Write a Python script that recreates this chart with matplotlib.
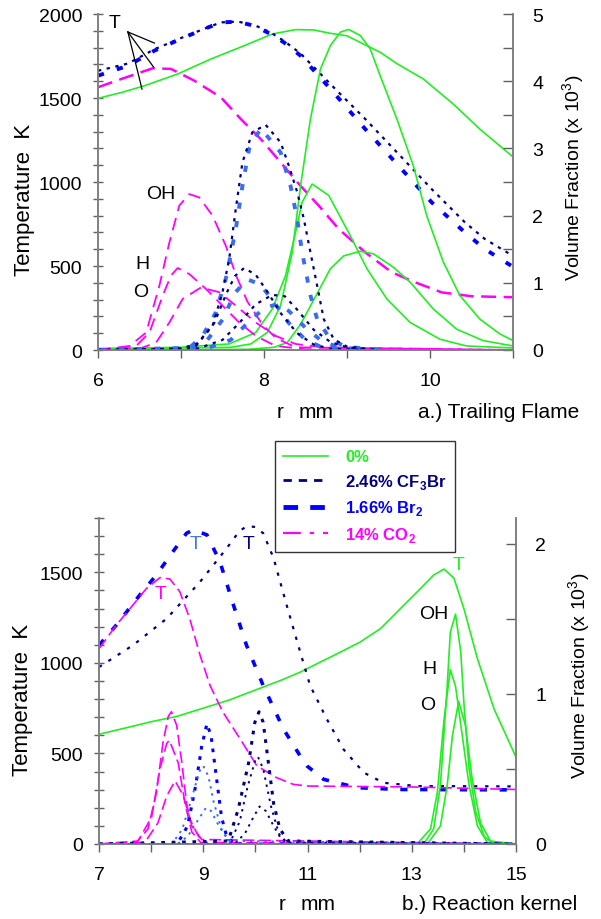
import matplotlib
matplotlib.use("Agg")
import matplotlib.pyplot as plt
from matplotlib.lines import Line2D

plt.rcParams['font.family'] = ['Liberation Sans', 'DejaVu Sans']
plt.rcParams['mathtext.fontset'] = 'custom'
plt.rcParams['mathtext.rm'] = 'Liberation Sans'
plt.rcParams['mathtext.bf'] = 'Liberation Sans:bold'

# ---------------- colours / series names ----------------
GREEN = '#22ee22'
NAVY = '#000080'
BLUE = '#0000ff'
LBLUE = '#3b6cf0'
MAG = '#ff00ff'
legend_labels = ['0%', r'2.46% CF$_\mathbf{3}$Br', r'1.66% Br$_\mathbf{2}$', r'14% CO$_\mathbf{2}$']

# ================= (a) Trailing flame =================
# temperature (K)
a_x_T0 = [6.0, 6.3, 6.56, 6.96, 7.36, 7.76, 8.1, 8.38, 8.6, 8.8, 9.0, 9.2, 9.4, 9.6, 9.92, 10.28, 10.6, 11.0]
a_T0 = [1498, 1535, 1573, 1643, 1732, 1811, 1881, 1907, 1905, 1885, 1870, 1821, 1772, 1705, 1613, 1464, 1315, 1149]
a_x_Tcf = [6.0, 6.36, 6.68, 7.04, 7.28, 7.48, 7.68, 7.88, 8.08, 8.24, 8.44, 8.82, 9.22, 9.62, 10.02, 10.42, 10.66, 11.0]
a_Tcf = [1662, 1705, 1790, 1865, 1912, 1950, 1955, 1935, 1890, 1840, 1765, 1573, 1375, 1167, 958, 760, 661, 560]
a_Tbr = [1633, 1692, 1782, 1861, 1911, 1950, 1954, 1930, 1881, 1831, 1752, 1543, 1315, 1097, 879, 700, 601, 495]
a_x_Tco = [6.0, 6.28, 6.66, 6.88, 7.16, 7.48, 7.72, 7.96, 8.2, 8.42, 8.66, 8.9, 9.22, 9.54, 9.82, 10.14, 10.5, 11.0]
a_Tco = [1564, 1613, 1677, 1673, 1603, 1504, 1375, 1256, 1117, 988, 859, 720, 581, 462, 403, 343, 320, 314]

# species volume fraction (x10^3)
a_x_OH0 = [6.0, 7.0, 7.6, 7.84, 8.04, 8.2, 8.34, 8.44, 8.56, 8.68, 8.8, 8.92, 9.02, 9.16, 9.28, 9.4, 9.6, 9.8, 9.96, 10.16, 10.36, 10.6, 10.84, 11.0]
a_OH0 = [0.02, 0.03, 0.04, 0.09, 0.26, 0.66, 1.45, 2.44, 3.44, 4.18, 4.53, 4.73, 4.77, 4.68, 4.48, 4.08, 3.44, 2.74, 2.0, 1.31, 0.81, 0.46, 0.24, 0.14]
a_x_H0 = [6.0, 6.98, 7.58, 7.90, 8.10, 8.26, 8.38, 8.46, 8.58, 8.78, 9.04, 9.24, 9.48, 9.76, 10.12, 10.44, 11.0]
a_H0 = [0.02, 0.04, 0.09, 0.26, 0.61, 1.11, 1.75, 2.20, 2.47, 2.30, 1.70, 1.21, 0.76, 0.41, 0.16, 0.06, 0.03]
a_x_O0 = [6.0, 7.8, 8.12, 8.28, 8.44, 8.64, 8.8, 8.96, 9.16, 9.32, 9.56, 9.76, 10.04, 10.32, 10.64, 11.0]
a_O0 = [0.0, 0.01, 0.04, 0.11, 0.38, 0.84, 1.21, 1.40, 1.47, 1.43, 1.23, 1.01, 0.61, 0.31, 0.14, 0.06]

a_x_OHco = [6.0, 6.38, 6.58, 6.74, 6.86, 6.98, 7.10, 7.22, 7.38, 7.54, 7.66, 7.8, 7.98, 8.14, 8.38, 11.0]
a_OHco = [0.0, 0.06, 0.26, 0.96, 1.60, 2.15, 2.32, 2.27, 2.0, 1.55, 1.12, 0.72, 0.38, 0.18, 0.04, 0.0]
a_x_Hco = [6.0, 6.46, 6.62, 6.78, 6.88, 6.96, 7.10, 7.30, 7.50, 7.70, 7.90, 8.14, 8.5, 11.0]
a_Hco = [0.0, 0.06, 0.26, 0.81, 1.11, 1.22, 1.13, 0.91, 0.66, 0.41, 0.21, 0.06, 0.01, 0.0]
a_x_Oco = [6.0, 6.5, 6.70, 6.86, 7.02, 7.24, 7.46, 7.66, 7.90, 8.14, 8.38, 8.7, 11.0]
a_Oco = [0.0, 0.02, 0.11, 0.41, 0.76, 0.93, 0.86, 0.66, 0.41, 0.21, 0.09, 0.04, 0.0]

a_x_OHcf = [6.0, 7.0, 7.18, 7.38, 7.50, 7.58, 7.66, 7.74, 7.86, 8.02, 8.2, 8.30, 8.40, 8.48, 8.56, 8.64, 8.72, 8.84, 9.0, 9.4]
a_OHcf = [0.0, 0.02, 0.06, 0.36, 0.86, 1.35, 2.10, 2.79, 3.24, 3.35, 3.09, 2.74, 2.35, 1.95, 1.45, 0.96, 0.46, 0.16, 0.05, 0.0]
a_x_Hcf = [6.0, 7.0, 7.2, 7.4, 7.55, 7.65, 7.76, 7.9, 8.05, 8.2, 8.4, 8.6, 8.8, 9.2]
a_Hcf = [0.0, 0.02, 0.1, 0.4, 0.85, 1.1, 1.22, 1.12, 0.85, 0.55, 0.25, 0.08, 0.02, 0.0]
a_x_Ocf = [6.0, 7.2, 7.5, 7.7, 7.9, 8.1, 8.25, 8.4, 8.6, 8.8, 9.0, 9.3]
a_Ocf = [0.0, 0.02, 0.15, 0.4, 0.68, 0.82, 0.8, 0.6, 0.3, 0.12, 0.04, 0.0]

a_x_OHbr = [6.0, 7.1, 7.26, 7.42, 7.54, 7.66, 7.74, 7.82, 7.96, 8.2, 8.32, 8.40, 8.46, 8.56, 8.64, 8.8, 8.98, 9.4]
a_OHbr = [0.0, 0.03, 0.21, 0.56, 1.06, 1.80, 2.44, 2.99, 3.30, 2.94, 2.44, 1.95, 1.45, 0.81, 0.46, 0.16, 0.05, 0.0]
a_x_Hbr = [6.0, 7.1, 7.3, 7.5, 7.65, 7.8, 7.95, 8.1, 8.3, 8.5, 8.7, 9.1]
a_Hbr = [0.0, 0.02, 0.12, 0.45, 0.85, 1.05, 0.98, 0.75, 0.4, 0.15, 0.04, 0.0]
a_x_Obr = [6.0, 7.3, 7.6, 7.8, 8.0, 8.15, 8.3, 8.5, 8.7, 8.9, 9.2]
a_Obr = [0.0, 0.02, 0.15, 0.4, 0.62, 0.68, 0.58, 0.33, 0.13, 0.04, 0.0]

# ================= (b) Reaction kernel =================
b_x_T0 = [7.0, 7.5, 8.0, 8.5, 9.0, 9.5, 10.0, 10.5, 10.86, 11.18, 11.6, 12.01, 12.4, 12.85, 13.17, 13.42, 13.62, 13.81, 14.0, 14.26, 14.58, 15.0]
b_T0 = [606, 640, 675, 705, 750, 795, 850, 905, 949, 995, 1055, 1115, 1189, 1319, 1411, 1485, 1518, 1467, 1300, 1023, 745, 480]
b_x_Tcf = [7.0, 7.65, 8.30, 8.94, 9.45, 9.7, 9.85, 10.0, 10.15, 10.35, 10.60, 10.86, 11.05, 11.37, 11.69, 12.08, 12.46, 13.1, 15.0]
b_Tcf = [977, 1097, 1245, 1448, 1633, 1730, 1756, 1750, 1716, 1578, 1319, 1060, 875, 690, 523, 394, 338, 320, 318]
b_x_Tbr = [7.0, 7.33, 7.78, 8.10, 8.42, 8.68, 8.81, 9.07, 9.32, 9.58, 9.83, 10.15, 10.54, 10.86, 10.99, 11.31, 11.95, 12.78, 15.0]
b_Tbr = [1097, 1208, 1374, 1485, 1615, 1716, 1735, 1707, 1559, 1319, 1097, 875, 634, 486, 431, 357, 311, 301, 299]
b_x_Tco = [7.0, 7.33, 7.65, 7.91, 8.17, 8.36, 8.55, 8.74, 8.94, 9.13, 9.38, 9.71, 10.03, 10.41, 10.73, 11.0, 13.0, 15.0]
b_Tco = [1078, 1208, 1319, 1411, 1471, 1463, 1393, 1245, 1041, 875, 727, 579, 431, 366, 329, 320, 315, 301]

b_x_OH0 = [7.0, 13.23, 13.42, 13.55, 13.68, 13.74, 13.84, 13.94, 14.0, 14.1, 14.23, 14.39, 14.58, 15.0]
b_OH0 = [0.0, 0.0, 0.10, 0.39, 1.05, 1.41, 1.53, 1.28, 0.94, 0.50, 0.21, 0.05, 0.0, 0.0]
b_x_H0 = [7.0, 13.10, 13.36, 13.49, 13.62, 13.74, 13.84, 13.97, 14.1, 14.26, 14.45, 15.0]
b_H0 = [0.0, 0.0, 0.10, 0.34, 0.83, 1.16, 1.05, 0.72, 0.39, 0.12, 0.01, 0.0]
b_x_O0 = [7.0, 13.3, 13.55, 13.68, 13.78, 13.90, 14.03, 14.16, 14.32, 14.51, 15.0]
b_O0 = [0.0, 0.0, 0.12, 0.39, 0.72, 0.95, 0.79, 0.43, 0.14, 0.02, 0.0]

b_x_OHco = [7.0, 7.69, 7.94, 8.10, 8.23, 8.33, 8.39, 8.49, 8.59, 8.68, 8.78, 8.97, 15.0]
b_OHco = [0.0, 0.0, 0.10, 0.34, 0.68, 0.85, 0.88, 0.79, 0.54, 0.27, 0.12, 0.03, 0.0]
b_x_Hco = [7.0, 7.75, 8.01, 8.17, 8.30, 8.35, 8.52, 8.65, 8.78, 8.95, 15.0]
b_Hco = [0.0, 0.02, 0.18, 0.50, 0.67, 0.69, 0.54, 0.27, 0.08, 0.01, 0.0]
b_x_Oco = [7.0, 7.88, 8.13, 8.30, 8.46, 8.62, 8.75, 8.91, 9.1, 15.0]
b_Oco = [0.0, 0.01, 0.14, 0.32, 0.42, 0.32, 0.16, 0.05, 0.0, 0.0]

b_x_OHbr = [7.0, 8.5, 8.7, 8.85, 8.97, 9.07, 9.15, 9.25, 9.35, 9.45, 9.6, 15.0]
b_OHbr = [0.0, 0.0, 0.12, 0.38, 0.65, 0.80, 0.72, 0.45, 0.18, 0.05, 0.0, 0.0]
b_x_Hbr = [7.0, 8.4, 8.6, 8.8, 8.92, 9.0, 9.1, 9.2, 9.35, 9.5, 15.0]
b_Hbr = [0.0, 0.0, 0.1, 0.33, 0.48, 0.52, 0.45, 0.28, 0.1, 0.02, 0.0]
b_x_Obr = [7.0, 8.5, 8.7, 8.9, 9.05, 9.15, 9.3, 9.45, 9.6, 15.0]
b_Obr = [0.0, 0.0, 0.05, 0.16, 0.24, 0.22, 0.12, 0.04, 0.0, 0.0]

b_x_OHcf = [7.0, 9.48, 9.67, 9.87, 9.99, 10.07, 10.15, 10.25, 10.35, 10.47, 10.63, 15.0]
b_OHcf = [0.0, 0.02, 0.23, 0.54, 0.81, 0.88, 0.81, 0.54, 0.27, 0.10, 0.02, 0.0]
b_x_Hcf = [7.0, 9.5, 9.7, 9.85, 10.0, 10.05, 10.15, 10.3, 10.45, 10.6, 15.0]
b_Hcf = [0.0, 0.0, 0.15, 0.38, 0.56, 0.58, 0.5, 0.25, 0.07, 0.01, 0.0]
b_x_Ocf = [7.0, 9.6, 9.8, 9.95, 10.08, 10.2, 10.35, 10.5, 10.65, 15.0]
b_Ocf = [0.0, 0.0, 0.07, 0.17, 0.25, 0.22, 0.12, 0.03, 0.0, 0.0]

# ---------------- styles ----------------
st_T = {
    '0': dict(color=GREEN, lw=1.2, ls='-'),
    'cf': dict(color=NAVY, lw=1.6, ls=(0, (1.5, 2.5))),
    'br': dict(color=BLUE, lw=2.8, ls=(0, (1.6, 3.5))),
    'co': dict(color=MAG, lw=1.8, ls=(0, (6, 3))),
}

fig = plt.figure(figsize=(6.01, 9.2), dpi=100)


def style_axes(ax, axr):
    for a in (ax, axr):
        a.spines['top'].set_visible(False)
        for s in ('left', 'right', 'bottom'):
            a.spines[s].set_color('#808080')
            a.spines[s].set_linewidth(1.2)
    ax.tick_params(axis='y', which='both', direction='inout', length=7, width=1, color='#606060',
                   labelsize=14, pad=8)
    ax.tick_params(axis='x', which='both', direction='out', length=6, width=1, color='#606060',
                   labelsize=14, pad=10)
    axr.tick_params(axis='y', which='both', direction='in', length=7, width=1, color='#606060',
                    labelsize=14, pad=14)


# ---------------- panel (a) ----------------
ax1 = fig.add_axes([98 / 601, 1 - 351 / 920, 415 / 601, 336 / 920])
ax1r = ax1.twinx()
ax1.plot(a_x_T0, a_T0, **st_T['0'])
ax1.plot(a_x_Tcf, a_Tcf, **st_T['cf'])
ax1.plot(a_x_Tcf, a_Tbr, **st_T['br'])
ax1.plot(a_x_Tco, a_Tco, **st_T['co'])

sp_a = dict(color=GREEN, lw=1.2, ls='-')
for xx, yy in ((a_x_OH0, a_OH0), (a_x_H0, a_H0), (a_x_O0, a_O0)):
    ax1r.plot(xx, yy, **sp_a)
sp_co = dict(color=MAG, lw=1.3, ls=(0, (7, 4)))
for xx, yy in ((a_x_OHco, a_OHco), (a_x_Hco, a_Hco), (a_x_Oco, a_Oco)):
    ax1r.plot(xx, yy, **sp_co)
sp_br = dict(color=LBLUE, lw=2.8, ls=(0, (1.6, 3.2)))
for xx, yy in ((a_x_OHbr, a_OHbr), (a_x_Hbr, a_Hbr), (a_x_Obr, a_Obr)):
    ax1r.plot(xx, yy, **sp_br)
sp_cf = dict(color=NAVY, lw=1.6, ls=(0, (1.5, 2.5)))
for xx, yy in ((a_x_OHcf, a_OHcf), (a_x_Hcf, a_Hcf), (a_x_Ocf, a_Ocf)):
    ax1r.plot(xx, yy, **sp_cf)

ax1.set_xlim(6, 11)
ax1.set_ylim(0, 2000)
ax1r.set_ylim(0, 5)
ax1.set_xticks([6, 7, 8, 9, 10, 11])
ax1.set_xticklabels(['6', '', '8', '', '10', ''])
ax1.set_yticks([0, 500, 1000, 1500, 2000])
ax1.set_yticks(range(0, 2001, 100), minor=True)
ax1r.set_yticks([0, 1, 2, 3, 4, 5])
ax1r.set_yticks([x * 0.5 for x in range(11)], minor=True)
style_axes(ax1, ax1r)

ax1.text(6.2, 1950, 'T', fontsize=14, ha='center', va='center')
for xe, ye in ((6.68, 1827), (6.67, 1684), (6.53, 1553)):
    ax1.plot([6.36, xe], [1893, ye], color='black', lw=0.9)
ax1.text(6.76, 929, 'OH', fontsize=14, ha='center', va='center')
ax1.text(6.54, 512, 'H', fontsize=14, ha='center', va='center')
ax1.text(6.52, 351, 'O', fontsize=14, ha='center', va='center')

fig.text(25 / 601, 1 - 200 / 920, 'Temperature  K', rotation=90, fontsize=16, ha='center', va='center')
fig.text(574 / 601, 1 - 178 / 920, 'Volume Fraction (x 10$^{3}$)', rotation=90, fontsize=14,
         ha='center', va='center')
fig.text(280 / 601, 1 - 412 / 920, 'r', fontsize=15, ha='center', va='center')
fig.text(316 / 601, 1 - 412 / 920, 'mm', fontsize=15, ha='center', va='center')
fig.text(418 / 601, 1 - 412 / 920, 'a.) Trailing Flame', fontsize=15, ha='left', va='center')

# ---------------- panel (b) ----------------
ax2 = fig.add_axes([99 / 601, 1 - 845 / 920, 417 / 601, 326 / 920])
ax2r = ax2.twinx()
ax2.plot(b_x_T0, b_T0, **st_T['0'])
ax2.plot(b_x_Tcf, b_Tcf, color=NAVY, lw=1.6, ls=(0, (1.5, 3.5)))
ax2.plot(b_x_Tbr, b_Tbr, color=BLUE, lw=2.6, ls=(0, (2, 3.5)))
ax2.plot(b_x_Tco, b_Tco, color=MAG, lw=1.2, ls=(0, (7, 3)))

for xx, yy in ((b_x_OH0, b_OH0), (b_x_H0, b_H0), (b_x_O0, b_O0)):
    ax2r.plot(xx, yy, color=GREEN, lw=1.2, ls='-')
for xx, yy in ((b_x_OHco, b_OHco), (b_x_Hco, b_Hco), (b_x_Oco, b_Oco)):
    ax2r.plot(xx, yy, color=MAG, lw=1.2, ls=(0, (7, 3)))
ax2r.plot(b_x_OHbr, b_OHbr, color=BLUE, lw=2.2, ls=(0, (1.2, 2.2)))
ax2r.plot(b_x_Hbr, b_Hbr, color=LBLUE, lw=1.4, ls=(0, (1.2, 2.5)))
ax2r.plot(b_x_Obr, b_Obr, color=LBLUE, lw=1.4, ls=(0, (1.2, 2.5)))
ax2r.plot(b_x_OHcf, b_OHcf, color=NAVY, lw=2.2, ls=(0, (1.2, 2.2)))
ax2r.plot(b_x_Hcf, b_Hcf, color=NAVY, lw=1.4, ls=(0, (1.2, 2.5)))
ax2r.plot(b_x_Ocf, b_Ocf, color=NAVY, lw=1.4, ls=(0, (1.2, 2.5)))

ax2.set_xlim(7, 15)
ax2.set_ylim(0, 1800)
ax2r.set_ylim(0, 2.17)
ax2.set_xticks(range(7, 16))
ax2.set_xticklabels(['7', '', '9', '', '11', '', '13', '', '15'])
ax2.set_yticks([0, 500, 1000, 1500])
ax2.set_yticks(range(0, 1801, 100), minor=True)
ax2r.set_yticks([0, 1, 2])
ax2r.set_yticks([0.5, 1.5], minor=True)
style_axes(ax2, ax2r)

ax2.text(8.18, 1383, 'T', color=MAG, fontsize=14, ha='center', va='center')
ax2.text(8.86, 1661, 'T', color='#4477ee', fontsize=14, ha='center', va='center')
ax2.text(9.87, 1661, 'T', color=NAVY, fontsize=14, ha='center', va='center')
ax2.text(13.9, 1546, 'T', color=GREEN, fontsize=14, ha='center', va='center')
ax2.text(13.42, 1273, 'OH', fontsize=14, ha='center', va='center')
ax2.text(13.33, 967, 'H', fontsize=14, ha='center', va='center')
ax2.text(13.3, 773, 'O', fontsize=14, ha='center', va='center')

fig.text(23 / 601, 1 - 700 / 920, 'Temperature  K', rotation=90, fontsize=16, ha='center', va='center')
fig.text(580 / 601, 1 - 676 / 920, 'Volume Fraction (x 10$^{3}$)', rotation=90, fontsize=14,
         ha='center', va='center')
fig.text(282 / 601, 1 - 905 / 920, 'r', fontsize=15, ha='center', va='center')
fig.text(318 / 601, 1 - 905 / 920, 'mm', fontsize=15, ha='center', va='center')
fig.text(402 / 601, 1 - 905 / 920, 'b.) Reaction kernel', fontsize=15, ha='left', va='center')

# ---------------- legend ----------------
handles = [
    Line2D([], [], color=GREEN, lw=1.2, ls='-'),
    Line2D([], [], color=NAVY, lw=2.0, ls=(0, (3, 2.5))),
    Line2D([], [], color=BLUE, lw=3.5, ls=(0, (3, 2.5))),
    Line2D([], [], color=MAG, lw=1.6, ls=(0, (8, 4, 2, 4))),
]
leg = fig.legend(handles, legend_labels, loc='upper left', bbox_to_anchor=(275 / 601, 1 - 442 / 920),
                 frameon=True, fancybox=False, fontsize=12, handlelength=2.7, handletextpad=1.0,
                 labelspacing=0.45, borderpad=0.5, borderaxespad=0)
leg.get_frame().set_edgecolor('black')
leg.get_frame().set_linewidth(1.0)
for t, c in zip(leg.get_texts(), [GREEN, NAVY, BLUE, MAG]):
    t.set_color(c)
    t.set_fontweight('bold')

fig.savefig('out.png', dpi=100)
